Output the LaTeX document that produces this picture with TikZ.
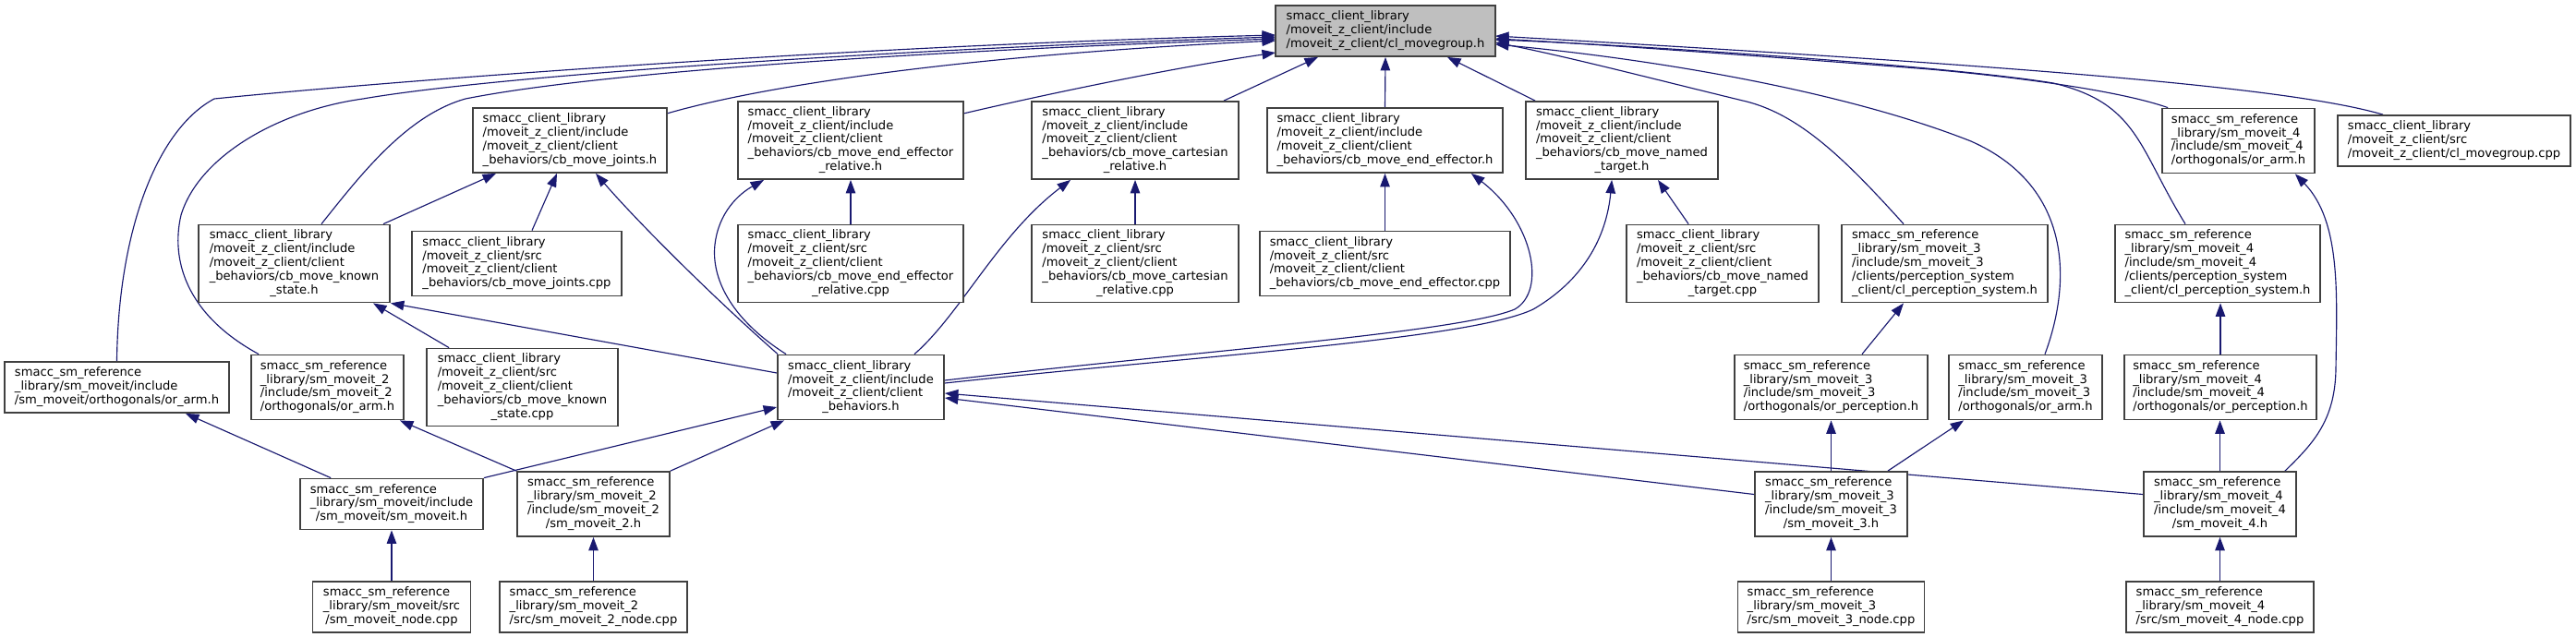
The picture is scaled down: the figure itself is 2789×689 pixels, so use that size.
\documentclass[tikz,border=0pt]{standalone}
\usepackage{fontspec}
\setmainfont{DejaVu Sans}
\usetikzlibrary{arrows.meta,calc}
\definecolor{edgecol}{HTML}{191970}
\definecolor{rootfill}{HTML}{BFBFBF}
\definecolor{boxline}{HTML}{404040}
\newcommand{\flabel}[2]{\begin{tabular}{@{}l@{}}#1\\\multicolumn{1}{@{}c@{}}{#2}\end{tabular}}
\pgfdeclarelayer{bg}
\pgfsetlayers{bg,main}
\begin{document}
\begin{tikzpicture}[x=1pt,y=-1pt,
  filebox/.style={draw=boxline, line width=1.8pt, fill=white, inner sep=0pt, font={\fontsize{13.1}{14.8}\selectfont}, text=black},
  rootbox/.style={filebox, fill=rootfill},
  hthree/.style={minimum height=55pt},
  hfour/.style={minimum height=70pt},
  hfive/.style={minimum height=84pt},
  edge/.style={draw=edgecol, line width=1.15pt, -{Triangle[length=14.5pt,width=10.5pt]}}]
\useasboundingbox (0,0) rectangle (2789,689);

% rank 0
\node[rootbox, hthree, minimum width=238pt] (root) at (1500,33.5) {\flabel{smacc\_client\_library\\/moveit\_z\_client/include}{/moveit\_z\_client/cl\_movegroup.h}};

% rank 1
\node[filebox, hfour, minimum width=210pt] (jh) at (617,152) {\flabel{smacc\_client\_library\\/moveit\_z\_client/include\\/moveit\_z\_client/client}{\_behaviors/cb\_move\_joints.h}};
\node[filebox, hfive, minimum width=244pt] (erh) at (921,152) {\flabel{smacc\_client\_library\\/moveit\_z\_client/include\\/moveit\_z\_client/client\\\_behaviors/cb\_move\_end\_effector}{\_relative.h}};
\node[filebox, hfive, minimum width=224pt] (crh) at (1229,152) {\flabel{smacc\_client\_library\\/moveit\_z\_client/include\\/moveit\_z\_client/client\\\_behaviors/cb\_move\_cartesian}{\_relative.h}};
\node[filebox, hfour, minimum width=255pt] (eh) at (1499.5,152) {\flabel{smacc\_client\_library\\/moveit\_z\_client/include\\/moveit\_z\_client/client}{\_behaviors/cb\_move\_end\_effector.h}};
\node[filebox, hfive, minimum width=208pt] (nh) at (1756,152) {\flabel{smacc\_client\_library\\/moveit\_z\_client/include\\/moveit\_z\_client/client\\\_behaviors/cb\_move\_named}{\_target.h}};
\node[filebox, hfour, minimum width=165pt] (s4arm) at (2423.5,152.5) {\flabel{smacc\_sm\_reference\\\_library/sm\_moveit\_4\\/include/sm\_moveit\_4}{/orthogonals/or\_arm.h}};
\node[filebox, hthree, minimum width=252pt] (cmcpp) at (2657,152.5) {\flabel{smacc\_client\_library\\/moveit\_z\_client/src}{/moveit\_z\_client/cl\_movegroup.cpp}};

% rank 2
\node[filebox, hfive, minimum width=207pt] (ksh) at (318.5,285.5) {\flabel{smacc\_client\_library\\/moveit\_z\_client/include\\/moveit\_z\_client/client\\\_behaviors/cb\_move\_known}{\_state.h}};
\node[filebox, hfour, minimum width=227pt] (jcpp) at (559.5,285.5) {\flabel{smacc\_client\_library\\/moveit\_z\_client/src\\/moveit\_z\_client/client}{\_behaviors/cb\_move\_joints.cpp}};
\node[filebox, hfive, minimum width=244pt] (ercpp) at (921,285.5) {\flabel{smacc\_client\_library\\/moveit\_z\_client/src\\/moveit\_z\_client/client\\\_behaviors/cb\_move\_end\_effector}{\_relative.cpp}};
\node[filebox, hfive, minimum width=224pt] (crcpp) at (1229,285.5) {\flabel{smacc\_client\_library\\/moveit\_z\_client/src\\/moveit\_z\_client/client\\\_behaviors/cb\_move\_cartesian}{\_relative.cpp}};
\node[filebox, hfour, minimum width=271pt] (ecpp) at (1499.5,285.5) {\flabel{smacc\_client\_library\\/moveit\_z\_client/src\\/moveit\_z\_client/client}{\_behaviors/cb\_move\_end\_effector.cpp}};
\node[filebox, hfive, minimum width=208pt] (ncpp) at (1865,285.5) {\flabel{smacc\_client\_library\\/moveit\_z\_client/src\\/moveit\_z\_client/client\\\_behaviors/cb\_move\_named}{\_target.cpp}};
\node[filebox, hfive, minimum width=223pt] (s3ps) at (2105.5,285.5) {\flabel{smacc\_sm\_reference\\\_library/sm\_moveit\_3\\/include/sm\_moveit\_3\\/clients/perception\_system}{\_client/cl\_perception\_system.h}};
\node[filebox, hfive, minimum width=222pt] (s4ps) at (2401,285.5) {\flabel{smacc\_sm\_reference\\\_library/sm\_moveit\_4\\/include/sm\_moveit\_4\\/clients/perception\_system}{\_client/cl\_perception\_system.h}};

% rank 3
\node[filebox, hthree, minimum width=243pt] (s1arm) at (126.5,419.5) {\flabel{smacc\_sm\_reference\\\_library/sm\_moveit/include}{/sm\_moveit/orthogonals/or\_arm.h}};
\node[filebox, hfour, minimum width=165pt] (s2arm) at (354.5,419.5) {\flabel{smacc\_sm\_reference\\\_library/sm\_moveit\_2\\/include/sm\_moveit\_2}{/orthogonals/or\_arm.h}};
\node[filebox, hfive, minimum width=207pt] (kscpp) at (565.5,419.5) {\flabel{smacc\_client\_library\\/moveit\_z\_client/src\\/moveit\_z\_client/client\\\_behaviors/cb\_move\_known}{\_state.cpp}};
\node[filebox, hfour, minimum width=180pt] (cbh) at (932,419.5) {\flabel{smacc\_client\_library\\/moveit\_z\_client/include\\/moveit\_z\_client/client}{\_behaviors.h}};
\node[filebox, hfour, minimum width=209pt] (s3perc) at (1982.5,419.5) {\flabel{smacc\_sm\_reference\\\_library/sm\_moveit\_3\\/include/sm\_moveit\_3}{/orthogonals/or\_perception.h}};
\node[filebox, hfour, minimum width=166pt] (s3arm) at (2193,419.5) {\flabel{smacc\_sm\_reference\\\_library/sm\_moveit\_3\\/include/sm\_moveit\_3}{/orthogonals/or\_arm.h}};
\node[filebox, hfour, minimum width=208pt] (s4perc) at (2404,419.5) {\flabel{smacc\_sm\_reference\\\_library/sm\_moveit\_4\\/include/sm\_moveit\_4}{/orthogonals/or\_perception.h}};

% rank 4
\node[filebox, hthree, minimum width=198pt] (s1h) at (424,546) {\flabel{smacc\_sm\_reference\\\_library/sm\_moveit/include}{/sm\_moveit/sm\_moveit.h}};
\node[filebox, hfour, minimum width=165pt] (s2h) at (642.5,546) {\flabel{smacc\_sm\_reference\\\_library/sm\_moveit\_2\\/include/sm\_moveit\_2}{/sm\_moveit\_2.h}};
\node[filebox, hfour, minimum width=165pt] (s3h) at (1982.5,546) {\flabel{smacc\_sm\_reference\\\_library/sm\_moveit\_3\\/include/sm\_moveit\_3}{/sm\_moveit\_3.h}};
\node[filebox, hfour, minimum width=165pt] (s4h) at (2403.5,546) {\flabel{smacc\_sm\_reference\\\_library/sm\_moveit\_4\\/include/sm\_moveit\_4}{/sm\_moveit\_4.h}};

% rank 5
\node[filebox, hthree, minimum width=171pt] (s1n) at (424,657.5) {\flabel{smacc\_sm\_reference\\\_library/sm\_moveit/src}{/sm\_moveit\_node.cpp}};
\node[filebox, hthree, minimum width=203pt] (s2n) at (642.5,657.5) {\flabel{smacc\_sm\_reference\\\_library/sm\_moveit\_2}{/src/sm\_moveit\_2\_node.cpp}};
\node[filebox, hthree, minimum width=202pt] (s3n) at (1982.5,657.5) {\flabel{smacc\_sm\_reference\\\_library/sm\_moveit\_3}{/src/sm\_moveit\_3\_node.cpp}};
\node[filebox, hthree, minimum width=203pt] (s4n) at (2403.5,657.5) {\flabel{smacc\_sm\_reference\\\_library/sm\_moveit\_4}{/src/sm\_moveit\_4\_node.cpp}};

\begin{pgfonlayer}{bg}
% edges into root, left side
\draw[edge] (s1arm.north) .. controls (128,250) and (170,140) .. (232,107) .. controls (400,90) and (900,50) .. ($(root)+(-119,4.5)$);
\draw[edge] ($(s2arm.north west)+(9,0)$) .. controls (200,340) and (185,280) .. (196,233) .. controls (215,170) and (300,120) .. (393,107) .. controls (550,80) and (1000,52) .. ($(root)+(-119,6.5)$);
\draw[edge] ($(ksh.north)+(29.5,0)$) .. controls (390,190) and (440,125) .. (504,107) .. controls (650,78) and (1000,55) .. ($(root)+(-119,8.5)$);
\draw[edge] ($(jh)+(105,-29)$) .. controls (800,100) and (1000,62) .. ($(root)+(-119,10.5)$);
\draw[edge] ($(erh)+(122,-29)$) .. controls (1150,98) and (1280,72) .. ($(root)+(-119,23.5)$);
\draw[edge] ($(crh.north)+(96,0)$) -- ($(root.south)+(-73,0)$);
\draw[edge] (eh.north) -- (root.south);
\draw[edge] ($(nh.north west)+(11,0)$) -- ($(root.south)+(67,0)$);
% edges into root, right side
\draw[edge] ($(s3ps.north)+(-44.5,0)$) .. controls (2000,175) and (1950,125) .. (1891,110) .. controls (1800,88) and (1700,62) .. ($(root)+(119,12.5)$);
\draw[edge] ($(s3arm.north)+(21,0)$) .. controls (2245,300) and (2240,200) .. (2134,153) .. controls (2000,100) and (1800,65) .. ($(root)+(119,14.5)$);
\draw[edge] ($(s4arm.north west)+(7,0)$) .. controls (2300,100) and (2200,85) .. (2089,75) .. controls (1900,60) and (1700,46) .. ($(root)+(119,8.5)$);
\draw[edge] ($(s4ps.north)+(-35,0)$) .. controls (2315,160) and (2315,112) .. (2223,90) .. controls (2100,70) and (1750,48) .. ($(root)+(119,9.5)$);
\draw[edge] ($(cmcpp.north)+(-77,0)$) .. controls (2480,95) and (2200,72) .. ($(root)+(119,5.5)$);

% client behaviour headers
\draw[edge] ($(ksh.north)+(96.5,0)$) -- ($(jh.south west)+(26,0)$);
\draw[edge] ($(jcpp.north)+(16.5,0)$) -- ($(jh.south)+(-14,0)$);
\draw[edge] ($(cbh.north west)+(1,0)$) .. controls (770,320) and (690,240) .. ($(jh.south)+(28,0)$);
\draw[edge] (ercpp.north) -- (erh.south);
\draw[edge] ($(cbh.north west)+(10,0)$) .. controls (790,345) and (770,300) .. (774,265) .. controls (778,230) and (800,210) .. ($(erh.south west)+(29,0)$);
\draw[edge] (crcpp.north) -- (crh.south);
\draw[edge] ($(cbh.north)+(58,0)$) .. controls (1040,340) and (1080,255) .. ($(crh.south west)+(43,0)$);
\draw[edge] (ecpp.north) -- (eh.south);
\draw[edge] ($(cbh.east)+(0,-7.5)$) .. controls (1300,380) and (1580,360) .. (1640,335) .. controls (1675,315) and (1660,240) .. ($(eh.south east)+(-35,0)$);
\draw[edge] ($(ncpp.north west)+(68,0)$) -- ($(nh.south)+(39,0)$);
\draw[edge] ($(cbh.east)+(0,-4.5)$) .. controls (1300,385) and (1590,368) .. (1660,335) .. controls (1720,300) and (1740,250) .. ($(nh.south west)+(94,0)$);
\draw[edge] ($(kscpp.north west)+(25,0)$) -- ($(ksh.south)+(85.5,0)$);
\draw[edge] ($(cbh.west)+(0,-15.5)$) -- (ksh.south east);

% sm_moveit_3 / sm_moveit_4 clients
\draw[edge] ($(s3perc.north)+(33.5,0)$) -- ($(s3ps.south)+(-44.5,0)$);
\draw[edge] (s4perc.north) -- (s4perc.north |- s4ps.south);
\draw[edge] ($(s4h.north east)+(-13,0)$) .. controls (2505,480) and (2528,455) .. (2529,400) .. controls (2530,320) and (2535,240) .. ($(s4arm.south east)+(-22,0)$);

% state machine headers
\draw[edge] ($(s1h.north west)+(34,0)$) -- ($(s1arm.south)+(74.5,0)$);
\draw[edge] (s2h.north west) -- ($(s2arm.south east)+(-5,0)$);
\draw[edge] (s1h.north east) -- ($(cbh.west)+(0,21.5)$);
\draw[edge] (s2h.north east) -- ($(cbh.south west)+(8,0)$);
\draw[edge] ($(s3h.west)+(0,-10.5)$) -- ($(cbh.east)+(0,11.5)$);
\draw[edge] ($(s4h.west)+(0,-10.5)$) -- ($(cbh.east)+(0,6.5)$);
\draw[edge] (s3h.north) -- (s3perc.south);
\draw[edge] ($(s3h.north east)+(-22,0)$) -- ($(s3arm.south west)+(17,0)$);
\draw[edge] (s4h.north) -- (s4h.north |- s4perc.south);

% node sources
\draw[edge] (s1n.north) -- (s1h.south);
\draw[edge] (s2n.north) -- (s2h.south);
\draw[edge] (s3n.north) -- (s3h.south);
\draw[edge] (s4n.north) -- (s4h.south);
\end{pgfonlayer}
\end{tikzpicture}
\end{document}
